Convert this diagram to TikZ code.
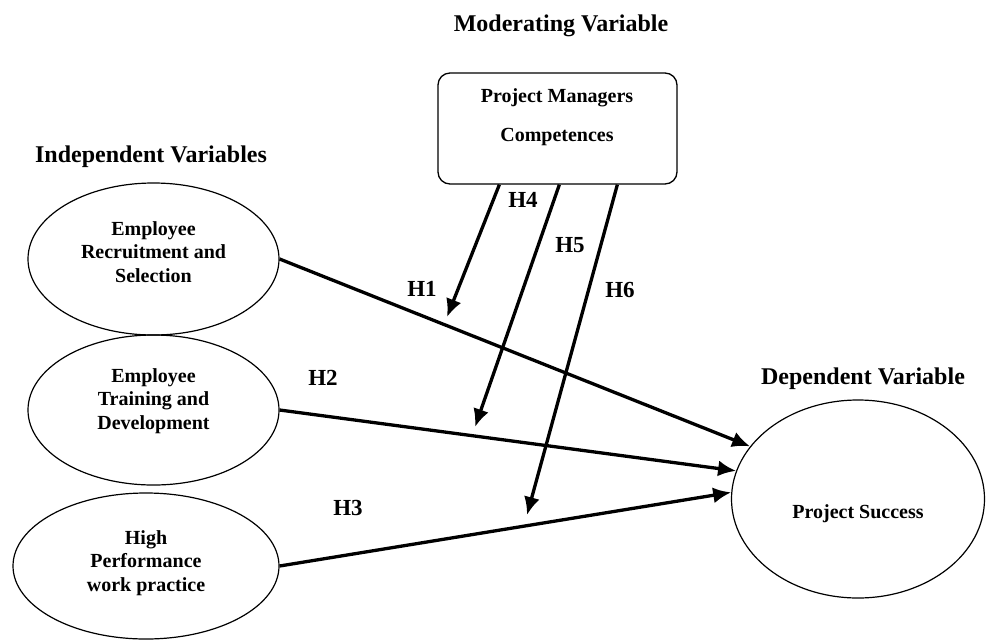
\documentclass[tikz,border=0pt]{standalone}
\usepackage{fontspec}
\setmainfont{Liberation Serif}
\usepackage{tikz}
\usetikzlibrary{shapes.geometric}
\usetikzlibrary{arrows.meta}

\begin{document}
\begin{tikzpicture}[x=1pt,y=-1pt,
			head/.style={font=\fontsize{24}{28}\selectfont\bfseries},
			hyp/.style={font=\fontsize{23}{27}\selectfont\bfseries},
			var/.style={draw,ellipse,line width=1.2pt,align=center,inner sep=0pt,font=\fontsize{20}{23.5}\selectfont\bfseries},
			link/.style={line width=3.3pt,-{Latex[length=18pt,width=16pt]}}]
			\useasboundingbox (0,0) rectangle (986,641);
			% headings
			\node [head] (modhead) at (561,26) {Moderating Variable};
			\node [head] (indhead) at (151,157) {Independent Variables};
			\node [head] (dephead) at (863,379) {Dependent Variable};
			% moderator box
			\node [draw,rounded corners=12pt,line width=1.3pt,minimum width=239pt,minimum height=111pt] (pm) at (557.5,128.5) {};
			\node [align=center,font=\fontsize{20}{23.5}\selectfont\bfseries] (pmtext) at (557,117.5) {Project Managers\\[15.5pt]Competences};
			% variables
			\node [var,minimum width=251pt,minimum height=152pt,text depth=14pt] (ers) at (153.5,259) {Employee\\Recruitment and\\Selection};
			\node [var,minimum width=251pt,minimum height=150pt,text depth=22pt] (etd) at (153.5,410) {Employee\\Training and\\Development};
			\node [var,minimum width=266pt,minimum height=146pt,text depth=10pt] (hpw) at (146,566) {High\\Performance\\work practice};
			\node [var,minimum width=253pt,minimum height=198pt,text height=44pt,text depth=5pt] (ps) at (858,499) {Project Success};
			% direct effects
			\draw [link] (ers.east) -- (ps.154);
			\draw [link] (etd.east) -- (ps.167);
			\draw [link] (hpw.east) -- (ps.177);
			% moderating effects
			\coordinate (m4) at ([xshift=62pt]pm.south west);
			\coordinate (m5) at ([xshift=122pt]pm.south west);
			\coordinate (m6) at ([xshift=180pt]pm.south west);
			\coordinate (t4) at (447,317);
			\coordinate (t5) at (475,427);
			\coordinate (t6) at (527,515);
			\draw [link] (m4) -- (t4);
			\draw [link] (m5) -- (t5);
			\draw [link] (m6) -- (t6);
			% hypotheses
			\node [hyp] (h1) at (422,289) {H1};
			\node [hyp] (h2) at (323,378) {H2};
			\node [hyp] (h3) at (348,508) {H3};
			\node [hyp] (h4) at (523,200) {H4};
			\node [hyp] (h5) at (570,245) {H5};
			\node [hyp] (h6) at (620,290) {H6};
		\end{tikzpicture}
\end{document}
